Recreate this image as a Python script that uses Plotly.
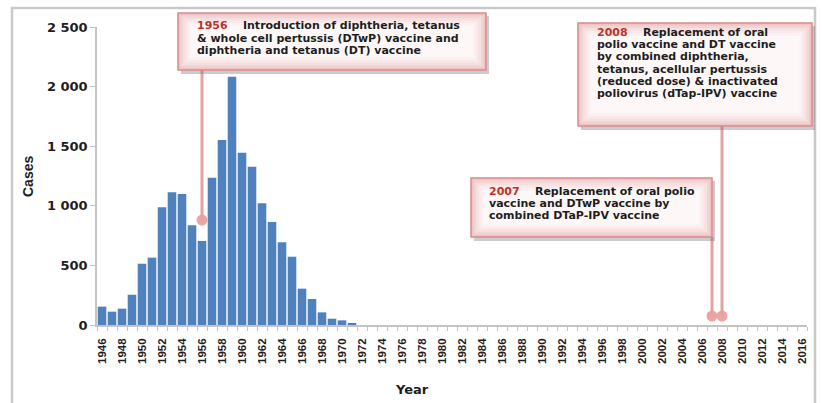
import plotly.graph_objects as go

# ---------------- data ----------------
years = list(range(1946, 2017))
cases = [154, 112, 137, 254, 514, 565, 987, 1113, 1099, 836,
         705, 1236, 1553, 2083, 1446, 1328, 1021, 864, 694, 573,
         305, 218, 106, 53, 39, 14,
         0, 0, 0, 0, 0, 0, 0, 0, 0, 0,
         0, 0, 0, 0, 0, 0, 0, 0, 0, 0,
         0, 0, 0, 0, 0, 0, 0, 0, 0, 0,
         0, 0, 0, 0, 0, 0, 0, 0, 0, 0,
         0, 0, 0, 0, 0]
y_tick_values = [0, 500, 1000, 1500, 2000, 2500]
x_tick_labels = [str(y) for y in range(1946, 2017, 2)]

event_years = [1956, 2007, 2008]
event_marker_values = [880, 75, 75]
event_labels = ["1956", "2007", "2008"]
event_texts = [
    ["Introduction of diphtheria, tetanus",
     "& whole cell pertussis (DTwP) vaccine and",
     "diphtheria and tetanus (DT) vaccine"],
    ["Replacement of oral polio",
     "vaccine and DTwP vaccine by",
     "combined DTaP-IPV vaccine"],
    ["Replacement of oral",
     "polio vaccine and DT vaccine",
     "by combined diphtheria,",
     "tetanus, acellular pertussis",
     "(reduced dose) & inactivated",
     "poliovirus (dTap-IPV) vaccine"],
]

# ---------------- layout geometry (pixels) ----------------
W, H = 822, 403
PL, PR, PT, PB = 97, 807, 27, 325   # plot area in pixels


def X(px):
    return (px - PL) / (PR - PL)


def Y(py):
    return (PB - py) / (PB - PT)


# box pixel rectangles: left, top, right, bottom ; text start x, first line y, line step
boxes = [
    (178, 13, 486, 70, 195, 26, 12.2),
    (471, 178, 712, 237, 487, 192, 11.7),
    (578, 23, 812, 126, 595, 32, 12.4),
]

BLUE = "#4f81bd"
PINK_LINE = "#e6a1a1"
RED_TXT = "#c0302b"
TXT = "#1e1e1e"
ANN_FONT = dict(family="DejaVu Sans", size=11.0, color=TXT, weight="bold")

fig = go.Figure()
fig.add_trace(go.Bar(x=years, y=cases, marker=dict(color=BLUE, line=dict(width=0)),
                     hoverinfo="x+y", showlegend=False))
fig.add_trace(go.Scatter(x=event_years, y=event_marker_values, mode="markers",
                         marker=dict(size=11, color="#eba5a5"), showlegend=False,
                         hoverinfo="skip", cliponaxis=False))

shapes = []
# outer chart frame (three visible sides)
shapes.append(dict(type="path", xref="paper", yref="paper",
                   path=f"M {X(12)},{Y(410)} L {X(12)},{Y(8)} L {X(815)},{Y(8)} L {X(815)},{Y(410)}",
                   line=dict(color="#c9c9c9", width=2.5)))

# connector lines (from event marker up to the bottom of the corresponding box)
conn_box = [0, 1, 2]
for yr, val, bi in zip(event_years, event_marker_values, conn_box):
    bottom_px = boxes[bi][3]
    shapes.append(dict(type="line", xref="x", yref="paper",
                       x0=yr, x1=yr, y0=val / 2500, y1=Y(bottom_px),
                       line=dict(color=PINK_LINE, width=3), layer="above"))

annotations = []
grad = ["#efc4c4", "#f3d3d3", "#f6dfdf", "#f9e9e9", "#fbf1f1", "#fdf7f7"]
for bi, (l, t, r, b, tx, ty, step) in enumerate(boxes):
    # shadow
    shapes.append(dict(type="rect", xref="paper", yref="paper",
                       x0=X(l + 3), x1=X(r + 3), y0=Y(b + 4), y1=Y(t + 3),
                       fillcolor="rgba(110,110,110,0.35)", line=dict(width=0)))
    # gradient-like fill
    for k, c in enumerate(grad):
        ins = k * 2.5
        shapes.append(dict(type="rect", xref="paper", yref="paper",
                           x0=X(l + ins), x1=X(r - ins), y0=Y(b - ins), y1=Y(t + ins),
                           fillcolor=c, line=dict(width=0)))
    shapes.append(dict(type="rect", xref="paper", yref="paper",
                       x0=X(l), x1=X(r), y0=Y(b), y1=Y(t),
                       fillcolor="rgba(0,0,0,0)", line=dict(color="#d98c8c", width=1.5)))
    lines = event_texts[bi]
    for li, line in enumerate(lines):
        if li == 0:
            txt = f'<span style="color:{RED_TXT}">{event_labels[bi]}</span>' + "\u00a0" * 4 + line
        else:
            txt = line
        annotations.append(dict(xref="paper", yref="paper", x=X(tx), y=Y(ty + li * step),
                                xanchor="left", yanchor="middle", showarrow=False,
                                text=txt, font=ANN_FONT))

# axis titles
annotations.append(dict(xref="paper", yref="paper", x=X(412), y=Y(389), text="Year",
                        showarrow=False, xanchor="center", yanchor="middle",
                        font=dict(family="DejaVu Sans", size=13, color=TXT, weight="bold")))
annotations.append(dict(xref="paper", yref="paper", x=X(28), y=Y(177), text="Cases",
                        showarrow=False, xanchor="center", yanchor="middle", textangle=-90,
                        font=dict(family="Liberation Sans", size=14, color=TXT, weight="bold")))

fig.update_layout(
    width=W, height=H,
    margin=dict(l=PL, r=W - PR, t=PT, b=H - PB, pad=0),
    paper_bgcolor="white", plot_bgcolor="white",
    separators=". ",
    bargap=0.14,
    shapes=shapes, annotations=annotations,
    showlegend=False,
)
fig.update_xaxes(
    range=[1945.5, 2016.5], tickmode="array",
    tickvals=list(range(1946, 2017, 2)), ticktext=x_tick_labels,
    tickangle=-90, ticks="", ticklabelstandoff=7,
    tickfont=dict(family="Liberation Sans", size=11.5, color=TXT, weight="bold"),
    showline=True, linecolor="#c4c4c4", linewidth=1.5, showgrid=False, zeroline=False,
    minor=dict(tick0=1945.5, dtick=1, ticks="outside", ticklen=4, tickcolor="#c4c4c4",
               showgrid=False),
)
fig.update_yaxes(
    range=[0, 2500], tickmode="array", tickvals=y_tick_values,
    ticktext=[f"{v:,}".replace(",", " ") for v in y_tick_values],
    ticks="outside", ticklen=5, tickcolor="#c4c4c4",
    tickfont=dict(family="DejaVu Sans", size=13, color=TXT, weight="bold"),
    showline=True, linecolor="#c4c4c4", linewidth=1.5, showgrid=False, zeroline=False,
)

fig.write_html("out.html", config={"displayModeBar": False},
               post_script="document.body.style.margin='0';document.body.style.overflow='hidden';")
